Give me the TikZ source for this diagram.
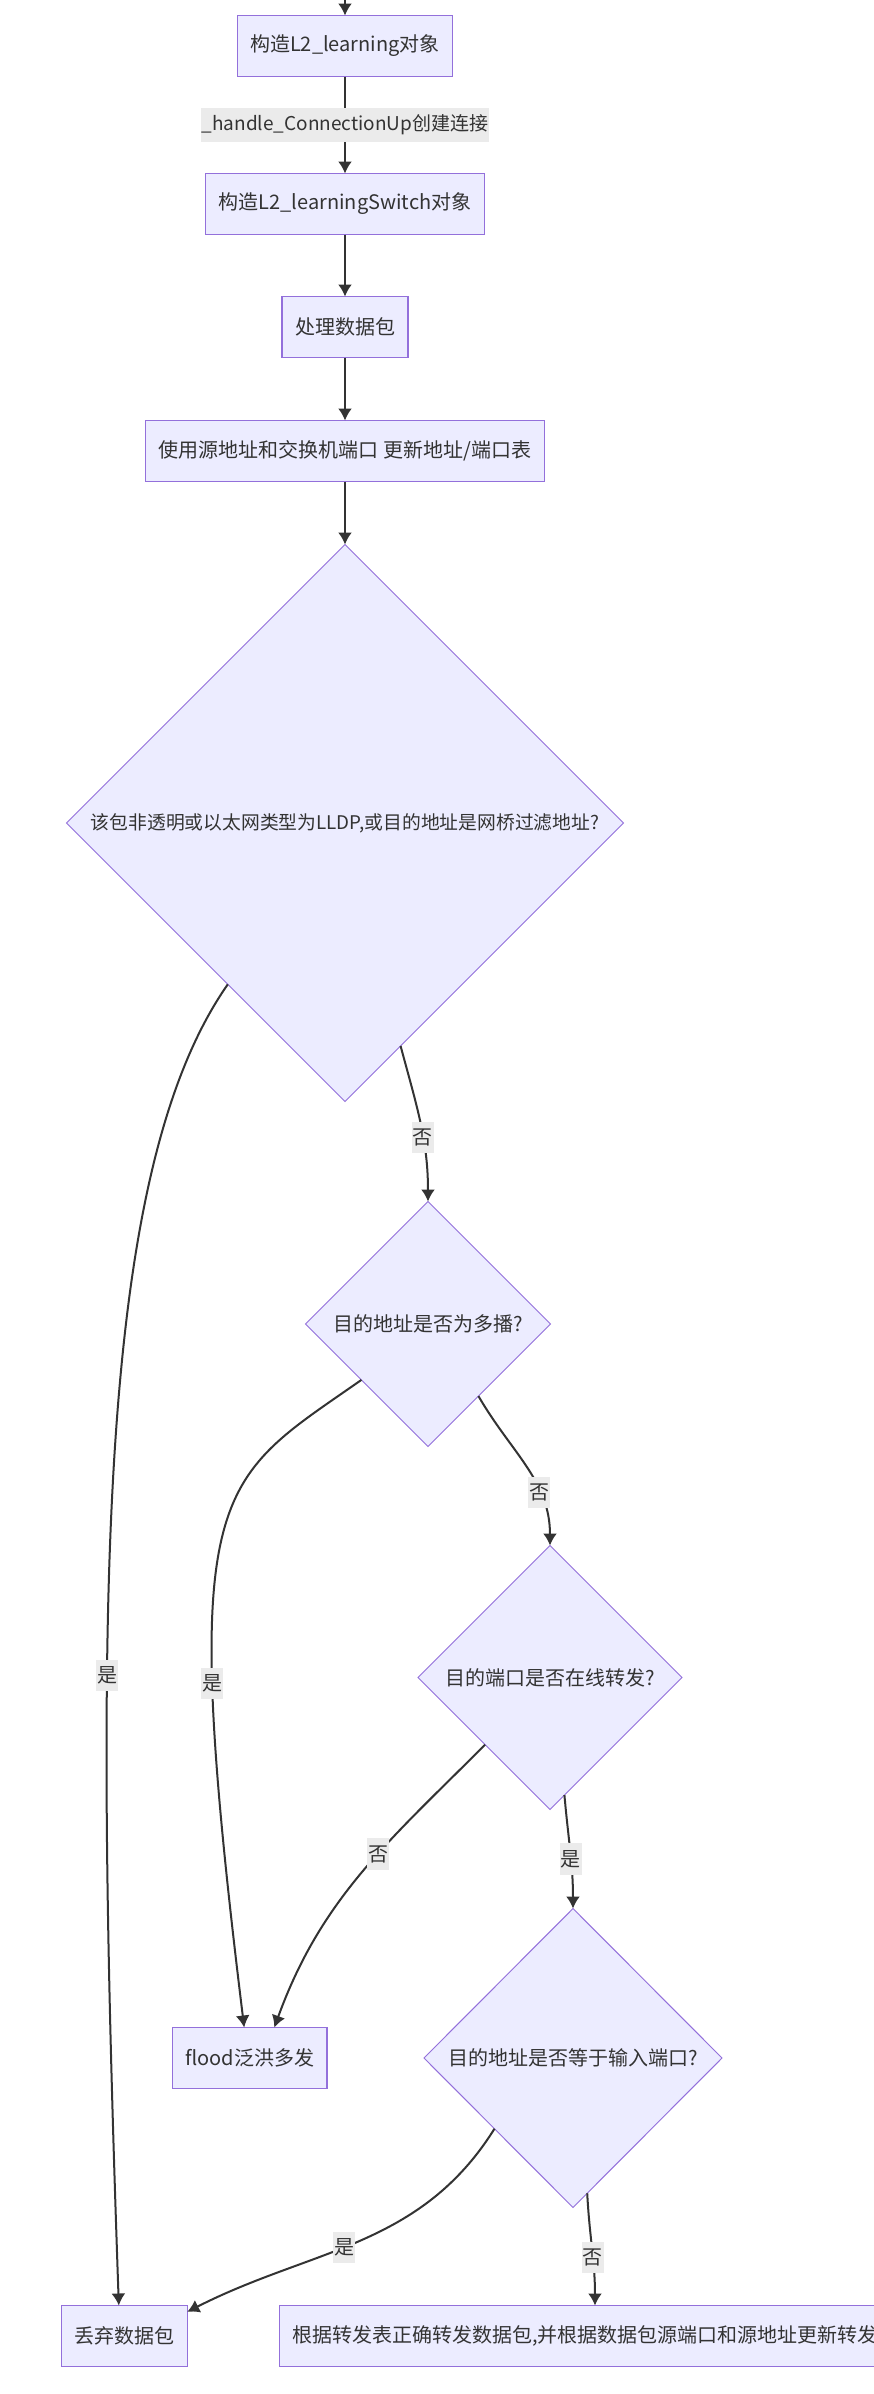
\documentclass[tikz,border=0pt]{standalone}
\usepackage{fontspec}
\usepackage{xcolor}
\usepackage{tikz}
\usetikzlibrary{positioning,shapes.geometric,arrows.meta}
\newfontfamily\cjkfont{Noto Sans CJK SC}
\definecolor{nodefill}{HTML}{ECECFF}
\definecolor{nodeline}{HTML}{9370DB}
\definecolor{inkgray}{HTML}{333333}
\definecolor{lblfill}{HTML}{EBEBEB}

\begin{document}
\begin{tikzpicture}[
    x=1pt, y=1pt,
    every node/.style={font=\cjkfont\fontsize{20}{24}\selectfont, text=inkgray},
    box/.style={draw=nodeline, fill=nodefill, line width=1.2pt, outer sep=0pt,
                minimum height=61pt, inner xsep=13pt, align=center},
    dec/.style={diamond, draw=nodeline, fill=nodefill, line width=1pt, outer sep=0pt,
                inner sep=0pt, align=center},
    arr/.style={-{Latex[length=12pt,width=14pt]}, line width=2pt, draw=inkgray},
    lbl/.style={fill=lblfill, inner xsep=1pt, inner ysep=7pt},
  ]
  \useasboundingbox (0,0) rectangle (874,-2394);
  \fill[white] (0,0) rectangle (874,-2394);
  \clip (0,0) rectangle (874,-2394);

  % Main chain
  \node[box] (learn) at (345,-46) {构造L2\_learning对象};
  \node[box, below=97pt of learn] (sw) {构造L2\_learningSwitch对象};
  \node[box, below=62pt of sw] (proc) {处理数据包};
  \node[box, below=63pt of proc] (upd) {使用源地址和交换机端口 更新地址/端口表};

  % Decisions
  \node[dec, minimum width=557pt, minimum height=557pt, below=63pt of upd,
        font=\cjkfont\fontsize{18.8}{23}\selectfont] (qfilter)
       {该包非透明或以太网类型为LLDP,或目的地址是网桥过滤地址?};
  \node[dec, minimum width=245pt, minimum height=245pt, below=100pt of qfilter, xshift=83pt] (qmulti)
       {目的地址是否为多播?};
  \node[dec, minimum width=264pt, minimum height=264pt, below=99pt of qmulti, xshift=122pt] (qport)
       {目的端口是否在线转发?};
  \node[dec, minimum width=298pt, minimum height=299pt, below=99pt of qport, xshift=23pt] (qinport)
       {目的地址是否等于输入端口?};

  % Outcomes
  \node[box, left=97pt of qinport] (flood) {flood泛洪多发};
  \node[box, below=98pt of qinport, xshift=22pt] (fwd)
       {根据转发表正确转发数据包,并根据数据包源端口和源地址更新转发表};
  \node[box, left=92pt of fwd] (drop) {丢弃数据包};

  % Arrows: main chain
  \coordinate (entry) at (345,5);
  \draw[arr] (entry) -- (learn);
  \draw[arr] (learn) -- node[lbl, font=\cjkfont\fontsize{19}{23}\selectfont]
             {\_handle\_ConnectionUp创建连接} (sw);
  \draw[arr] (sw) -- (proc);
  \draw[arr] (proc) -- (upd);
  \draw[arr] (upd) -- (qfilter);

  % Arrows: decisions
  \draw[arr] (qfilter.-76) to[out=-75,in=90] node[lbl,pos=0.6] {否} (qmulti.north);
  \draw[arr] (qfilter.-126) .. controls +(-125:230) and +(92:700) ..
             node[lbl,pos=0.655] {是} (drop.100);
  \draw[arr] (qmulti.-140) .. controls +(-145:180) and +(97:550) ..
             node[lbl,pos=0.72] {是} (flood.100);
  \draw[arr] (qmulti.-55) to[out=-60,in=90] node[lbl,pos=0.68] {否} (qport.north);
  \draw[arr] (qport.-134) to[out=-135,in=70] node[lbl,pos=0.42] {否} (flood.51);
  \draw[arr] (qport.-83) to[out=-85,in=90] node[lbl,pos=0.57] {是} (qinport.north);
  \draw[arr] (qinport.-138) to[out=-122,in=27] node[lbl,pos=0.55] {是} (drop.21);
  \draw[arr] (qinport.-84) to[out=-87,in=90] node[lbl,pos=0.58] {否} (fwd.north);

\end{tikzpicture}
\end{document}
